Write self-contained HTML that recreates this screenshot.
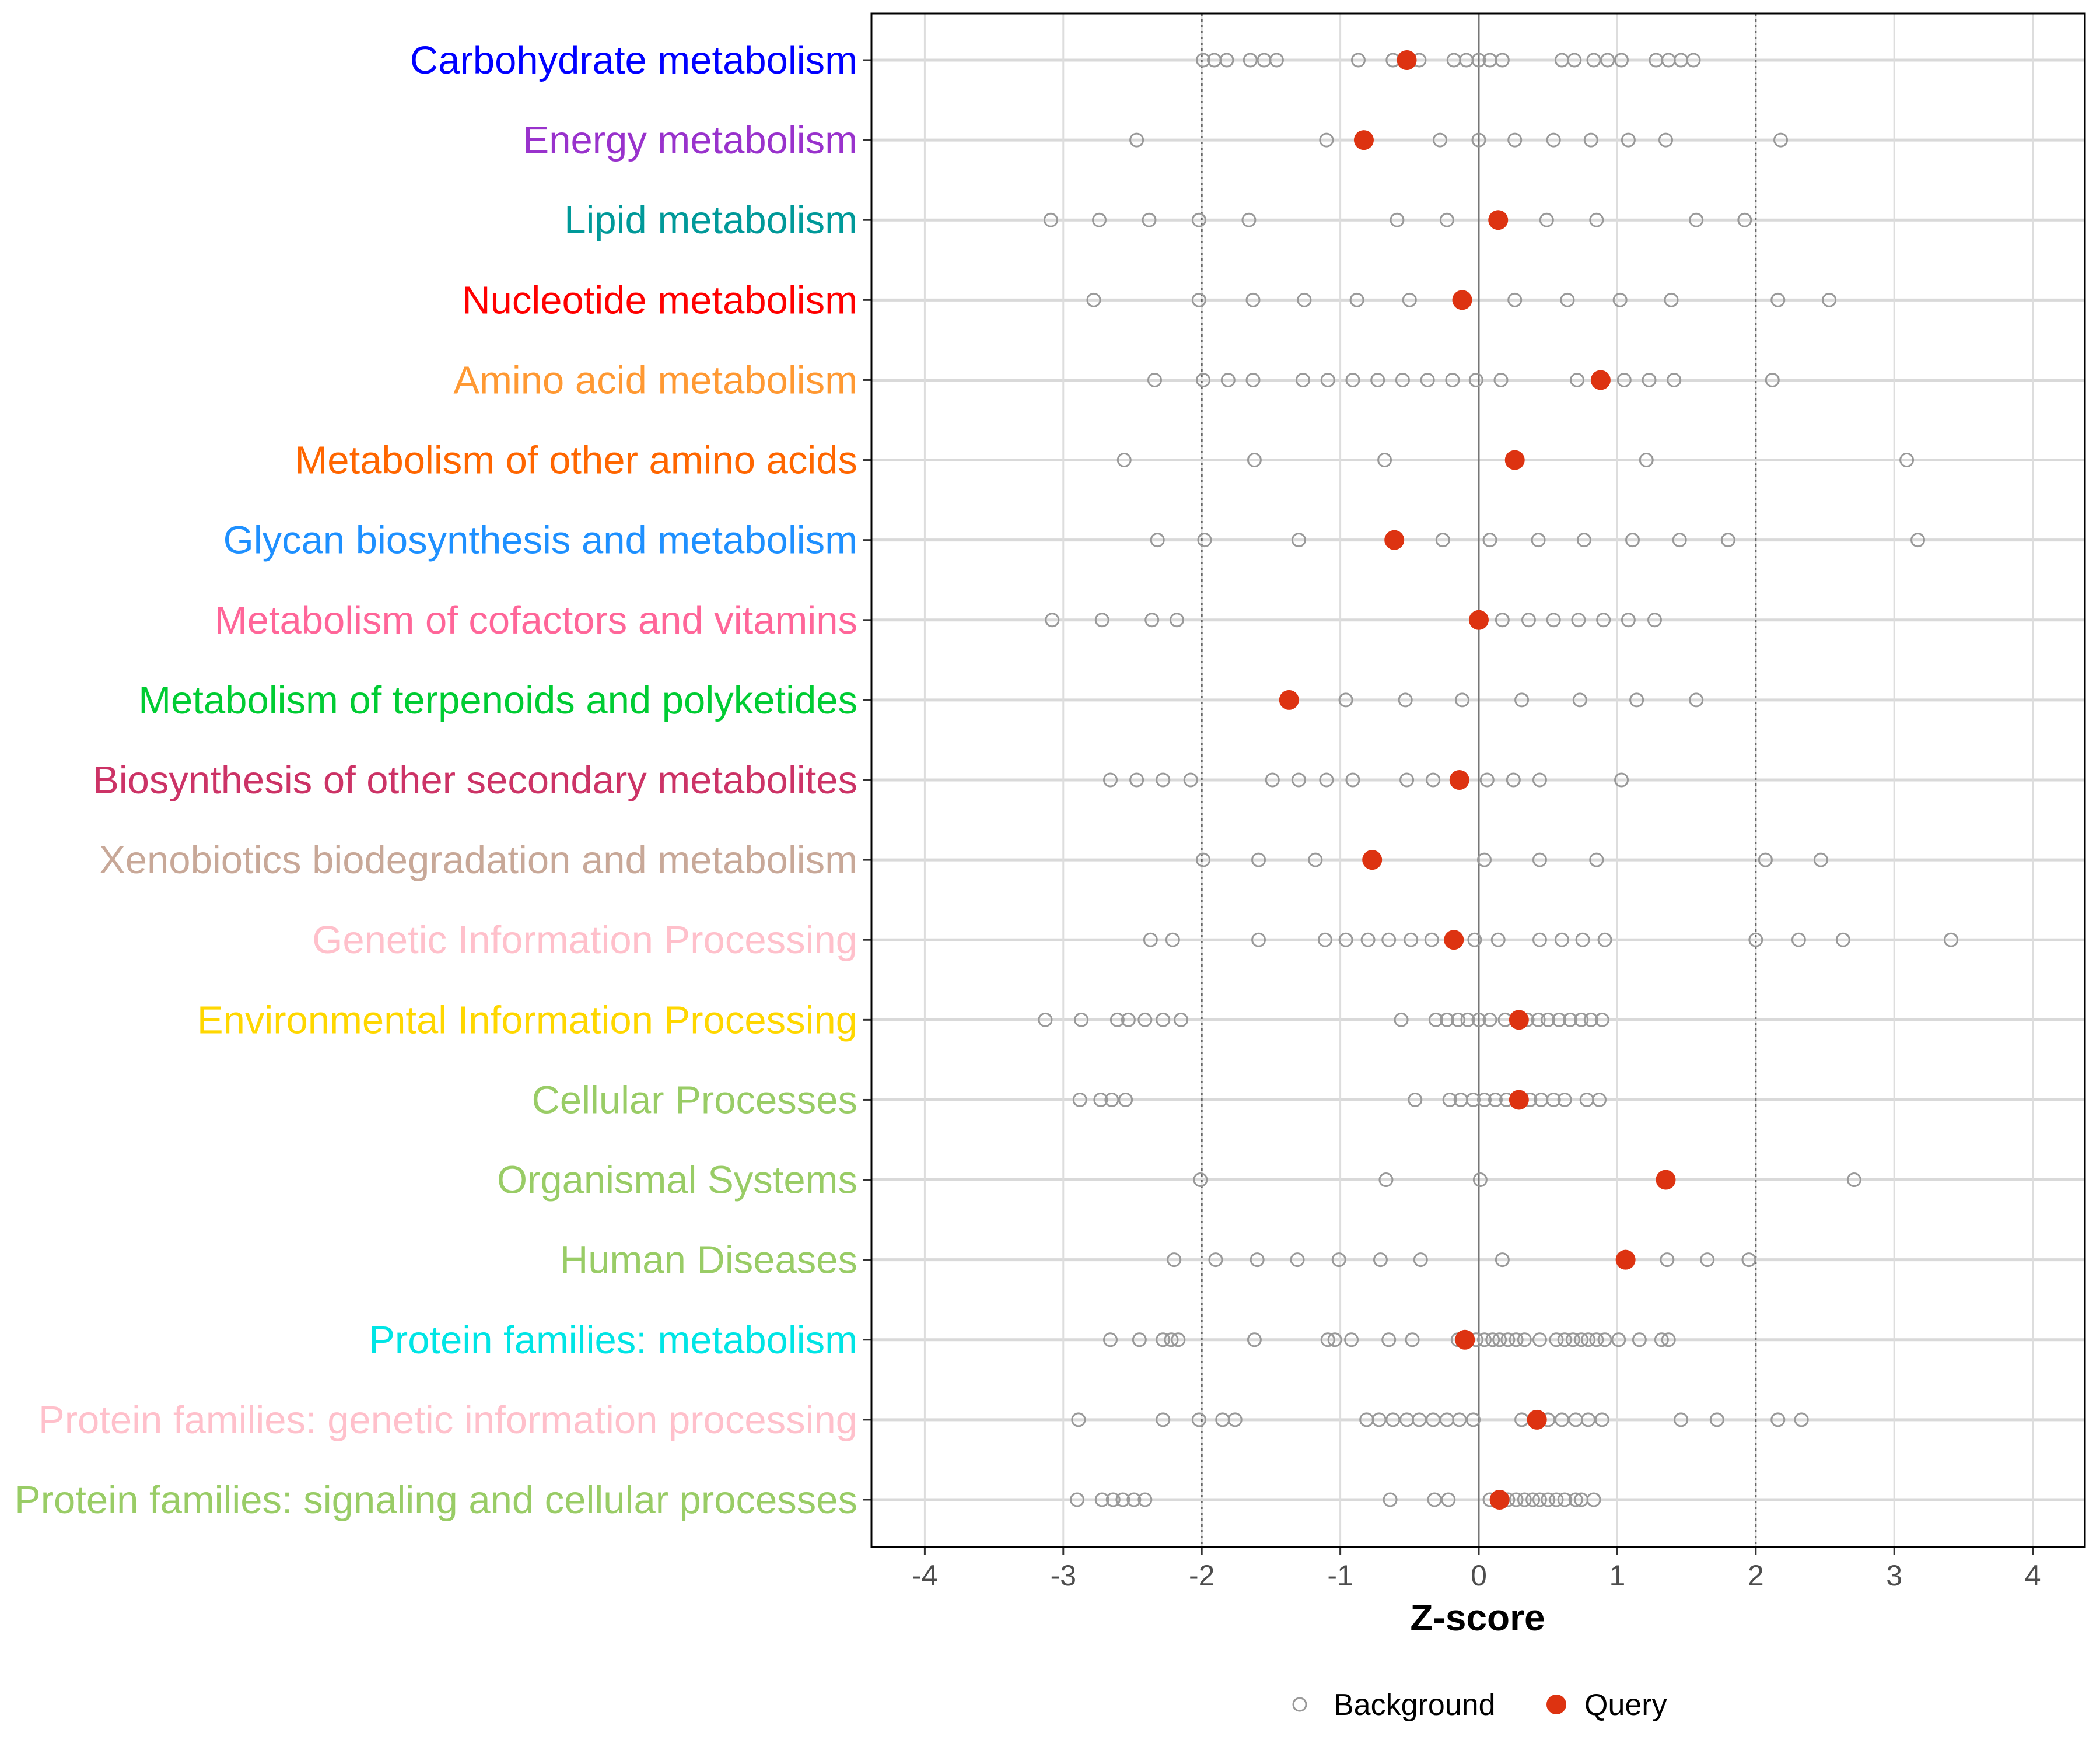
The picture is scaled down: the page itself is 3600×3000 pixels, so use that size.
<!DOCTYPE html>
<html><head><meta charset="utf-8"><style>
html,body{margin:0;padding:0;background:#fff;}
svg{display:block;font-family:"Liberation Sans",sans-serif;}
</style></head><body>
<svg id="chart" width="3600" height="3000" viewBox="0 0 3600 3000" xmlns="http://www.w3.org/2000/svg">
<rect width="3600" height="3000" fill="#fff"/>
<g id="grid"></g><g id="marks"></g><g id="labels"></g>
<rect x="1494" y="23" width="2080" height="2629" fill="none" stroke="#000" stroke-width="3"/>
<text x="2533" y="2795" font-size="64" font-weight="bold" text-anchor="middle">Z-score</text>
<g>
<circle cx="2228" cy="2922" r="11" fill="none" stroke="#999" stroke-width="3"/>
<text x="2286" y="2940" font-size="52">Background</text>
<circle cx="2668" cy="2922" r="17" fill="#DD3311"/>
<text x="2716" y="2940" font-size="52">Query</text>
</g>
</svg>
<script>
const categories=["Carbohydrate metabolism","Energy metabolism","Lipid metabolism","Nucleotide metabolism","Amino acid metabolism","Metabolism of other amino acids","Glycan biosynthesis and metabolism","Metabolism of cofactors and vitamins","Metabolism of terpenoids and polyketides","Biosynthesis of other secondary metabolites","Xenobiotics biodegradation and metabolism","Genetic Information Processing","Environmental Information Processing","Cellular Processes","Organismal Systems","Human Diseases","Protein families: metabolism","Protein families: genetic information processing","Protein families: signaling and cellular processes"];
const labelColors=["#0000FF","#9932CC","#009999","#FF0000","#FF9933","#FF6600","#1E90FF","#FF6699","#00CC33","#CC3366","#C8A898","#FFC0CB","#FFD700","#99CC66","#99CC66","#99CC66","#00E5E5","#FFC0CB","#99CC66"];
const queryValues=[-0.52,-0.83,0.14,-0.12,0.88,0.26,-0.61,0,-1.37,-0.14,-0.77,-0.18,0.29,0.29,1.35,1.06,-0.1,0.42,0.15];
const backgroundValues=[
[-1.99,-1.91,-1.82,-1.65,-1.55,-1.46,-0.87,-0.62,-0.54,-0.43,-0.18,-0.09,0,0.08,0.17,0.6,0.69,0.83,0.93,1.03,1.28,1.37,1.46,1.55],
[-2.47,-1.1,-0.28,0,0.26,0.54,0.81,1.08,1.35,2.18],
[-3.09,-2.74,-2.38,-2.02,-1.66,-0.59,-0.23,0.49,0.85,1.57,1.92],
[-2.78,-2.02,-1.63,-1.26,-0.88,-0.5,0.26,0.64,1.02,1.39,2.16,2.53],
[-2.34,-1.99,-1.81,-1.63,-1.27,-1.09,-0.91,-0.73,-0.55,-0.37,-0.19,-0.02,0.16,0.71,1.05,1.23,1.41,2.12],
[-2.56,-1.62,-0.68,1.21,3.09],
[-2.32,-1.98,-1.3,-0.26,0.08,0.43,0.76,1.11,1.45,1.8,3.17],
[-3.08,-2.72,-2.36,-2.18,0.17,0.36,0.54,0.72,0.9,1.08,1.27],
[-0.96,-0.53,-0.12,0.31,0.73,1.14,1.57],
[-2.66,-2.47,-2.28,-2.08,-1.49,-1.3,-1.1,-0.91,-0.52,-0.33,0.06,0.25,0.44,1.03],
[-1.99,-1.59,-1.18,0.04,0.44,0.85,2.07,2.47],
[-2.37,-2.21,-1.59,-1.11,-0.96,-0.8,-0.65,-0.49,-0.34,-0.03,0.14,0.44,0.6,0.75,0.91,2.0,2.31,2.63,3.41],
[-3.13,-2.87,-2.61,-2.53,-2.41,-2.28,-2.15,-0.56,-0.31,-0.23,-0.15,-0.08,0,0.08,0.19,0.35,0.43,0.5,0.58,0.66,0.74,0.81,0.89],
[-2.88,-2.73,-2.65,-2.55,-0.46,-0.21,-0.13,-0.04,0.04,0.12,0.2,0.37,0.45,0.54,0.62,0.78,0.87],
[-2.01,-0.67,0.01,2.71],
[-2.2,-1.9,-1.6,-1.31,-1.01,-0.71,-0.42,0.17,1.36,1.65,1.95],
[-2.66,-2.45,-2.28,-2.22,-2.17,-1.62,-1.09,-1.04,-0.92,-0.65,-0.48,-0.15,-0.08,-0.02,0.04,0.1,0.15,0.21,0.27,0.33,0.44,0.56,0.62,0.68,0.74,0.79,0.85,0.91,1.01,1.16,1.32,1.37],
[-2.89,-2.28,-2.02,-1.85,-1.76,-0.81,-0.72,-0.62,-0.52,-0.43,-0.33,-0.23,-0.14,-0.04,0.31,0.5,0.6,0.7,0.79,0.89,1.46,1.72,2.16,2.33],
[-2.9,-2.72,-2.64,-2.57,-2.49,-2.41,-0.64,-0.32,-0.22,0.08,0.15,0.21,0.27,0.33,0.39,0.44,0.5,0.56,0.62,0.7,0.74,0.83]
];
const xTicks=[-4,-3,-2,-1,0,1,2,3,4];
const NS="http://www.w3.org/2000/svg";
const PL=1494,PR=3574,PT=23,PB=2652;
function xs(z){return 2535+z*237.4;}
function ys(i){return 103+i*(2571-103)/(categories.length-1);}
function mk(tag,attrs,parent){const e=document.createElementNS(NS,tag);for(const k in attrs)e.setAttribute(k,attrs[k]);parent.appendChild(e);return e;}
const grid=document.getElementById('grid'),marks=document.getElementById('marks'),labels=document.getElementById('labels');
categories.forEach((c,i)=>{
  const l=mk('line',{x1:PL,x2:PR,y1:ys(i),y2:ys(i),stroke:'#D9D9D9','stroke-width':5},grid);
  
  
  const t=mk('line',{x1:PL-14,x2:PL,y1:ys(i),y2:ys(i),stroke:'#333','stroke-width':3},grid);
  
  
  const tx=mk('text',{x:1470,y:ys(i)+23,'font-size':67,'text-anchor':'end',fill:labelColors[i]},labels);
  tx.textContent=c;
  
  
});
xTicks.forEach(v=>{
  const g=mk('line',{x1:xs(v),x2:xs(v),y1:PT,y2:PB,stroke:'#DDDDDD','stroke-width':3},grid);
  
  
  const t=mk('line',{x1:xs(v),x2:xs(v),y1:PB,y2:PB+14,stroke:'#333','stroke-width':3},grid);
  
  
  const tx=mk('text',{x:xs(v),y:PB+66,'font-size':50,'text-anchor':'middle',fill:'#4D4D4D'},labels);
  tx.textContent=String(v);
  
  
});
[-2,2].forEach(v=>{
  const d=mk('line',{x1:xs(v),x2:xs(v),y1:PT,y2:PB,stroke:'#666','stroke-width':3,'stroke-dasharray':'4,6'},grid);
  
  
});
const zl=mk('line',{x1:xs(0),x2:xs(0),y1:PT,y2:PB,stroke:'#777','stroke-width':3},grid);


backgroundValues.forEach((arr,i)=>{
  arr.forEach(v=>{
    const c=mk('circle',{cx:xs(v),cy:ys(i),r:11,fill:'none',stroke:'#999','stroke-width':3},marks);
    
    
  });
});
queryValues.forEach((v,i)=>{
  const c=mk('circle',{cx:xs(v),cy:ys(i),r:17,fill:'#DD3311'},marks);
  
  
});
</script>
</body></html>
